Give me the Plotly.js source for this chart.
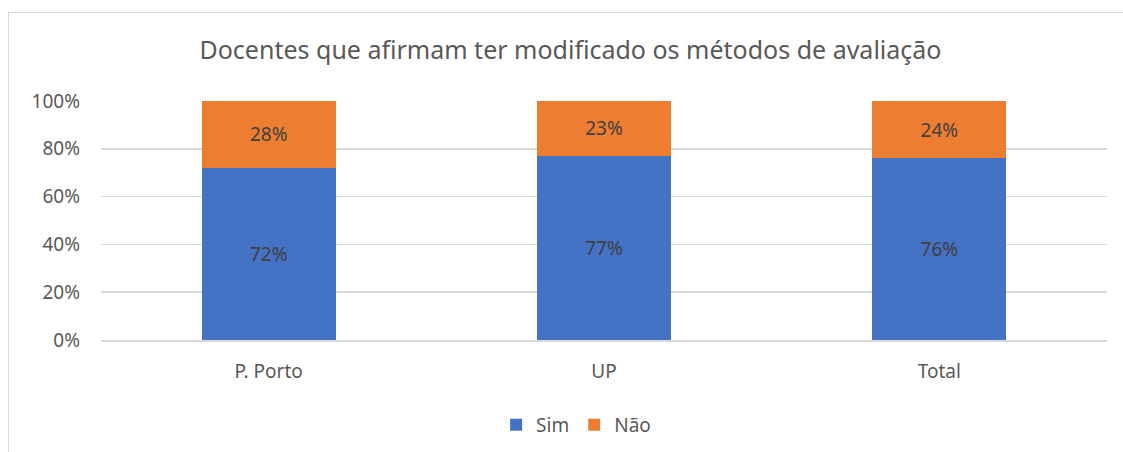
<!DOCTYPE html>
<html><head><meta charset="utf-8">
<script src="https://cdn.plot.ly/plotly-3.0.1.min.js"></script>
<style>
html,body{margin:0;padding:0;background:#fff;overflow:hidden;}
#frame{position:absolute;left:8px;top:12px;width:1200px;height:500px;border:1.5px solid #d9d9d9;box-sizing:border-box;}
#chart{position:absolute;left:0;top:0;width:1123px;height:452px;}
</style></head>
<body>
<div id="frame"></div>
<div id="chart"></div>
<script>
const categories = ["P. Porto", "UP", "Total"];
const sim = [0.72, 0.77, 0.76];
const nao = [0.28, 0.23, 0.24];
const simLabels = ["72%", "77%", "76%"];
const naoLabels = ["28%", "23%", "24%"];
const tickVals = [0, 0.2, 0.4, 0.6, 0.8, 1.0];
const tickText = ["0%", "20%", "40%", "60%", "80%", "100%"];

const font = "Noto Sans, Open Sans, sans-serif";
const traces = [
  {type:"bar", name:"Sim", x:categories, y:sim, text:simLabels, textposition:"inside", insidetextanchor:"middle",
   textfont:{color:"#404040", size:19, family:font}, marker:{color:"#4472C4"}, hoverinfo:"none"},
  {type:"bar", name:"Não", x:categories, y:nao, text:naoLabels, textposition:"inside", insidetextanchor:"middle",
   textfont:{color:"#404040", size:19, family:font}, marker:{color:"#ED7D31"}, hoverinfo:"none"}
];
const layout = {
  width:1123, height:452,
  paper_bgcolor:"rgba(0,0,0,0)", plot_bgcolor:"rgba(0,0,0,0)",
  margin:{l:101, r:16, t:101, b:112},
  barmode:"stack", bargap:0.6,
  font:{family:font, color:"#595959", size:18},
  title:{text:"Docentes que afirmam ter modificado os métodos de avaliação", x:0.508, xref:"container", xanchor:"center",
         y:0.889, yref:"container", yanchor:"middle", font:{size:25, color:"#595959", family:font}},
  xaxis:{showline:true, linecolor:"#d9d9d9", linewidth:1.5, ticks:"", tickfont:{size:19, color:"#595959"},
         ticklabelstandoff:14, fixedrange:true},
  yaxis:{range:[0,1], tickvals:tickVals, ticktext:tickText, showgrid:true, gridcolor:"#d9d9d9", gridwidth:1.5,
         zeroline:false, ticks:"", tickfont:{size:19, color:"#595959"}, ticklabelstandoff:20, fixedrange:true},
  showlegend:true,
  legend:{orientation:"h", xref:"container", x:0.513, xanchor:"center", yref:"container", y:0.06, yanchor:"middle",
          font:{size:19, color:"#595959"}, traceorder:"normal", itemwidth:30},
  uniformtext:{mode:false}
};
Plotly.newPlot("chart", traces, layout, {displayModeBar:false, staticPlot:true});
</script>
</body></html>
